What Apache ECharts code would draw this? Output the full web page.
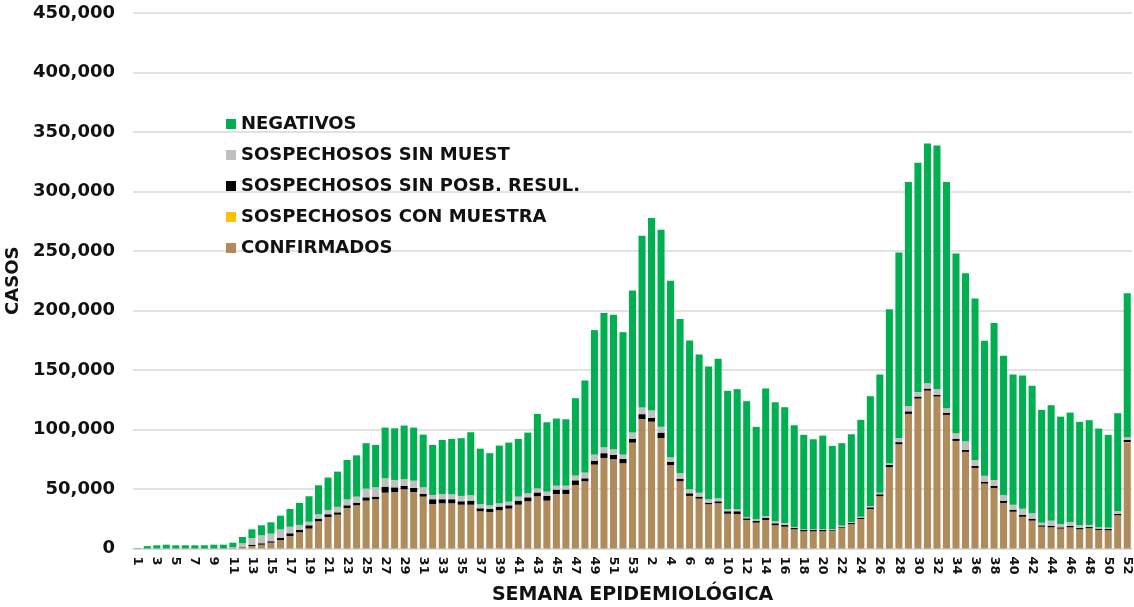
<!DOCTYPE html>
<html>
<head>
<meta charset="utf-8">
<title>Casos por semana epidemiológica</title>
<script src="https://cdn.jsdelivr.net/npm/echarts@6/dist/echarts.min.js"></script>
<style>
  html, body { margin: 0; padding: 0; background: #fff; }
  #chart { width: 1134px; height: 607px; }
</style>
</head>
<body>
<div id="chart"></div>
<script>
// semanas: 2020 (1-53) y 2021 (1-52)
const semanas = [];
for (let w = 1; w <= 53; w++) semanas.push(String(w));
for (let w = 1; w <= 52; w++) semanas.push(String(w));

const confirmados = [
  0, 0, 0, 0, 0, 0, 0, 0, 0, 0,
  200, 1000, 2100, 3200, 4900, 7100, 10500, 13600, 16700, 22900,
  26500, 28400, 34100, 36300, 40200, 41400, 46900, 47500, 49800, 47500,
  43600, 37400, 38000, 38000, 36800, 36800, 31300, 30700, 32100, 33500,
  36800, 39700, 43900, 40200, 45800, 45800, 53400, 56500, 70500, 76100,
  75000, 71600, 89000, 108700, 106600, 92900, 70000, 56500, 44200, 41900,
  37200, 38000, 29200, 29000, 24000, 21700, 24000, 19500, 18300, 16100,
  14400, 14400, 14400, 15000, 17500, 20400, 24800, 33200, 43900, 68300,
  87600, 113100, 126000, 132700, 127700, 112300, 90400, 81200, 67700, 54500,
  50900, 38300, 30900, 26700, 23400, 18300, 17800, 16700, 17800, 16100,
  17000, 15600, 15300, 27600, 89000
];

const conMuestra = [
  0, 0, 0, 0, 0, 0, 0, 0, 0, 0,
  0, 0, 0, 0, 0, 0, 0, 0, 0, 0,
  0, 0, 0, 0, 0, 0, 0, 0, 0, 0,
  0, 0, 0, 0, 0, 0, 0, 0, 0, 0,
  0, 0, 0, 0, 0, 0, 0, 0, 0, 0,
  0, 0, 0, 0, 0, 0, 0, 0, 0, 0,
  0, 0, 0, 0, 0, 0, 0, 0, 0, 0,
  0, 0, 0, 0, 0, 0, 0, 0, 0, 0,
  0, 0, 0, 0, 0, 0, 0, 0, 0, 0,
  0, 0, 0, 0, 0, 0, 0, 0, 0, 0,
  0, 0, 0, 200, 400
];

const sinPosbResul = [
  0, 0, 0, 0, 0, 0, 0, 0, 0, 0,
  100, 300, 1100, 1200, 1200, 1700, 2300, 2000, 2800, 2200,
  2300, 2000, 2200, 2200, 2800, 2200, 5100, 3900, 2800, 3400,
  2200, 4000, 3400, 3400, 2900, 3400, 2500, 2500, 3100, 2800,
  3400, 3300, 3200, 3900, 3700, 3700, 3900, 2500, 3300, 4000,
  3600, 3700, 3300, 4200, 3100, 4500, 2700, 2200, 2200, 1700,
  1300, 1700, 2100, 2300, 1400, 1700, 1900, 1700, 1700, 1100,
  1200, 1200, 1200, 800, 800, 1000, 1100, 1400, 1700, 1900,
  1800, 2200, 1700, 1700, 1400, 1700, 1900, 1600, 1700, 1700,
  1700, 1900, 1700, 1500, 1700, 1200, 1400, 1100, 1100, 1100,
  1100, 1100, 1100, 1200, 1800
];

const sinMuest = [
  0, 0, 0, 0, 0, 0, 0, 0, 0, 0,
  700, 3100, 5600, 6700, 6400, 7300, 5500, 4200, 3000, 3700,
  3600, 4600, 5000, 5100, 7300, 7800, 7000, 6200, 5600, 6100,
  5600, 3600, 4200, 4200, 4500, 4500, 3400, 3100, 2800, 3100,
  3400, 3400, 3400, 3700, 3300, 3300, 4000, 4800, 5100, 5000,
  4800, 3600, 5100, 5500, 6200, 5000, 4000, 4500, 3400, 3300,
  2900, 2500, 1700, 1700, 1100, 1200, 1400, 1700, 1400, 900,
  500, 500, 500, 600, 900, 900, 800, 1100, 1300, 1500,
  3400, 4500, 3900, 4500, 5000, 3900, 4600, 7400, 5000, 5000,
  5000, 4800, 4200, 5300, 4500, 2200, 4200, 2800, 3400, 2300,
  1700, 1100, 1100, 2500, 2300
];

const negativos = [
  300, 2000, 2700, 3200, 2700, 2700, 2700, 2700, 3200, 3200,
  3900, 5300, 7300, 8400, 9500, 11500, 14900, 18500, 21400, 24300,
  27200, 29600, 33100, 34700, 38200, 35600, 42600, 43400, 45100, 44600,
  44300, 42000, 45600, 46500, 48500, 53000, 46700, 43800, 48500, 49600,
  48500, 51000, 62600, 58300, 56400, 55800, 65000, 77400, 104600, 112700,
  113100, 102900, 119400, 144400, 161800, 165500, 148300, 129600, 125000, 116100,
  111500, 117200, 99500, 100900, 97300, 77600, 107100, 100000, 97300, 85500,
  79400, 75700, 78800, 69800, 69300, 73700, 81400, 92300, 99300, 129300,
  156000, 188200, 192500, 201400, 204500, 190100, 151000, 141200, 135700, 113300,
  132000, 116900, 109400, 111800, 107100, 94800, 97000, 90200, 91900, 86900,
  88000, 83000, 78000, 82200, 121100
];

const yTicks = [0, 50000, 100000, 150000, 200000, 250000, 300000, 350000, 400000, 450000];

const FONT = "'DejaVu Sans', 'Noto Sans', sans-serif";

const chart = echarts.init(document.getElementById("chart"));

function barSerie(name, data, color) {
  return {
    name: name,
    type: "bar",
    stack: "total",
    data: data,
    barCategoryGap: "26%",
    itemStyle: { color: color },
    emphasis: { disabled: true },
  };
}

const option = {
  animation: false,
  grid: {
    left: 133,
    right: 2,
    top: 13,
    bottom: 58.5,
    containLabel: false,
    outerBoundsMode: "none",
  },
  legend: {
    orient: "vertical",
    left: 221,
    top: 110,
    itemGap: 13,
    itemWidth: 10,
    itemHeight: 10,
    icon: "rect",
    data: [
      "NEGATIVOS",
      "SOSPECHOSOS SIN MUEST",
      "SOSPECHOSOS SIN POSB. RESUL.",
      "SOSPECHOSOS CON MUESTRA",
      "CONFIRMADOS",
    ],
    textStyle: {
      fontFamily: FONT,
      fontWeight: "bold",
      fontSize: 18,
      color: "#111",
    },
  },
  xAxis: {
    type: "category",
    data: semanas,
    name: "SEMANA EPIDEMIOLÓGICA",
    nameLocation: "middle",
    nameGap: 37,
    nameTextStyle: {
      fontFamily: FONT,
      fontWeight: "bold",
      fontSize: 19,
      color: "#111",
    },
    axisLine: { show: true, lineStyle: { color: "#d9d9d9", width: 1.5 } },
    axisTick: { show: false },
    axisLabel: {
      interval: 1,
      rotate: -90,
      margin: 8,
      fontFamily: FONT,
      fontWeight: "bold",
      fontSize: 13,
      color: "#111",
    },
  },
  yAxis: {
    type: "value",
    min: 0,
    max: yTicks[yTicks.length - 1],
    interval: yTicks[1] - yTicks[0],
    name: "CASOS",
    nameLocation: "middle",
    nameGap: 103,
    nameTextStyle: {
      fontFamily: FONT,
      fontWeight: "bold",
      fontSize: 18,
      color: "#111",
    },
    axisLine: { show: false },
    axisTick: { show: false },
    splitLine: { lineStyle: { color: "#d9d9d9", width: 1.5 } },
    axisLabel: {
      margin: 18,
      fontFamily: FONT,
      fontWeight: "bold",
      fontSize: 18,
      color: "#111",
      formatter: (v) => v.toLocaleString("en-US"),
    },
  },
  series: [
    barSerie("CONFIRMADOS", confirmados, "#b08b5b"),
    barSerie("SOSPECHOSOS CON MUESTRA", conMuestra, "#ffc000"),
    barSerie("SOSPECHOSOS SIN POSB. RESUL.", sinPosbResul, "#000000"),
    barSerie("SOSPECHOSOS SIN MUEST", sinMuest, "#bfbfbf"),
    barSerie("NEGATIVOS", negativos, "#00b050"),
  ],
};

chart.setOption(option);

window.addEventListener("resize", () => {
  chart.resize();
});
</script>
</body>
</html>
